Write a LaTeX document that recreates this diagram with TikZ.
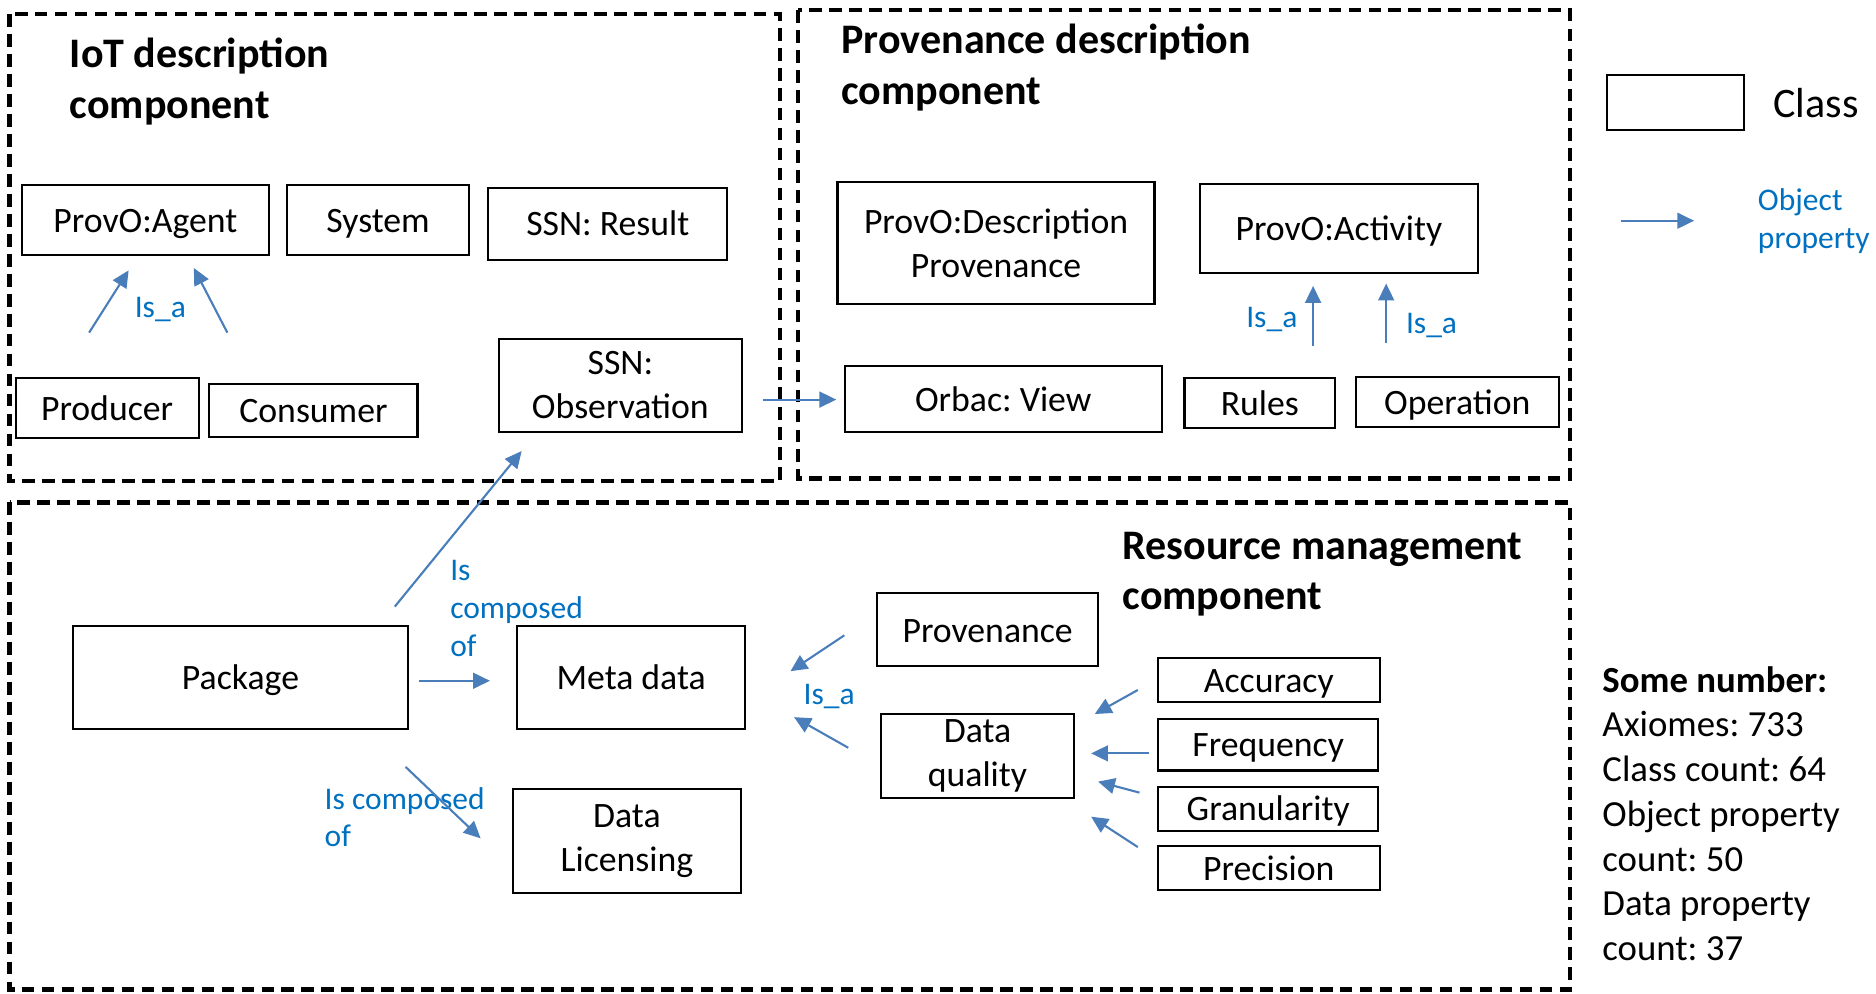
\documentclass[tikz,border=0pt]{standalone}
\usepackage{fontspec}
\setmainfont{Carlito}
\usetikzlibrary{arrows.meta}
\definecolor{arrowblue}{RGB}{74,126,187}
\definecolor{labelblue}{RGB}{0,112,192}
\frenchspacing

\begin{document}
\begin{tikzpicture}[x=0.02cm, y=-0.02cm,
	cls/.style={draw=black, line width=1pt, inner sep=0pt, align=center, font=\fontsize{17}{21}\selectfont},
	single/.style={text height=16.2pt, text depth=4.6pt},
	heading/.style={anchor=west, align=left, inner sep=0pt, font=\fontsize{20}{24}\selectfont\bfseries},
	lbl/.style={text=labelblue, inner sep=0pt, align=left, font=\fontsize{15}{18}\selectfont},
	arr/.style={draw=arrowblue, line width=1pt, -{Triangle[length=8pt, width=7.5pt]}},
	frame/.style={draw=black, line width=2pt, dash pattern=on 6pt off 3.5pt}]
				\useasboundingbox (0,0) rectangle (1568,830);
				
				\draw[frame] (8,12) rectangle (652,402);
				\draw[frame] (667,8.5) rectangle (1312,400);
				\draw[frame] (8,420) rectangle (1312,827);
				
				\node[heading] (iottitle) at (58,68){IoT description\\component};
				\node[heading] (provtitle) at (703,56.5){Provenance description\\component};
				\node[heading] (restitle) at (938,480){Resource management\\component};
				
				\node[cls, single, minimum width=4.14cm, minimum height=1.16cm] (agent) at (121.5,184){ProvO:Agent};
				\node[cls, single, minimum width=3.04cm, minimum height=1.16cm] (system) at (316,184){System};
				\node[cls, single, minimum width=4cm, minimum height=1.2cm] (result) at (508,187){SSN: Result};
				\node[cls, single, minimum width=3.06cm, minimum height=1cm] (producer) at (89.5,341){Producer};
				\node[cls, single, minimum width=3.48cm, minimum height=0.88cm] (consumer) at (262,343){Consumer};
				\node[cls, minimum width=4.06cm, minimum height=1.56cm] (observation) at (518.5,322){SSN:\\Observation};
				
				\node[cls, minimum width=5.3cm, minimum height=2.04cm] (description) at (832.5,203){ProvO:Description\\Provenance};
				\node[cls, single, minimum width=4.64cm, minimum height=1.48cm] (activity) at (1119,191){ProvO:Activity};
				\node[cls, single, minimum width=5.3cm, minimum height=1.1cm] (view) at (838.5,333.5){Orbac: View};
				\node[cls, single, minimum width=2.52cm, minimum height=0.84cm] (rules) at (1053,337){Rules};
				\node[cls, single, minimum width=3.4cm, minimum height=0.84cm] (operation) at (1218,336){Operation};
				
				\node[cls, single, minimum width=5.6cm, minimum height=1.72cm] (package) at (201,566){Package};
				\node[cls, single, minimum width=3.82cm, minimum height=1.72cm] (metadata) at (527.5,566){Meta data};
				\node[cls, minimum width=3.8cm, minimum height=1.74cm] (licensing) at (524,703){Data\\Licensing};
				\node[cls, single, minimum width=3.7cm, minimum height=1.22cm] (provenance) at (825.5,526.5){Provenance};
				\node[cls, minimum width=3.24cm, minimum height=1.4cm] (quality) at (817,632){Data\\quality};
				\node[cls, single, minimum width=3.72cm, minimum height=0.74cm] (accuracy) at (1060.5,568.5){Accuracy};
				\node[cls, single, minimum width=3.68cm, minimum height=0.86cm] (frequency) at (1060,622.5){Frequency};
				\node[cls, single, minimum width=3.68cm, minimum height=0.72cm] (granularity) at (1060,676){Granularity};
				\node[cls, single, minimum width=3.72cm, minimum height=0.7cm] (precision) at (1060.5,725.5){Precision};
				
				\node[cls, minimum width=2.3cm, minimum height=0.92cm] (classbox) at (1400.5,86){};
				\node[anchor=west, inner sep=0pt, font=\fontsize{20}{24}\selectfont] (classtext) at (1482,86){Class};
				\node[lbl, anchor=west] (proptext) at (1469,184.6){Object\\property};
				
				\node[anchor=west, align=left, inner sep=0pt, font=\fontsize{17.5}{21.3}\selectfont] (numbers) at (1339,680){\textbf{Some number:}\\Axiomes: 733\\Class count: 64\\Object property\\count: 50\\Data property\\count: 37};
				
				\node[lbl] (isa1) at (134,259){Is\_a};
				\node[lbl] (isa2) at (1063,267){Is\_a};
				\node[lbl] (isa3) at (1196.5,272){Is\_a};
				\node[lbl] (isa4) at (693,582){Is\_a};
				\node[lbl, anchor=west] (comp1) at (376,508.5){Is\\composed\\of};
				\node[lbl, anchor=west] (comp2) at (271,683){Is composed\\of};
				
				\coordinate (producerout) at (74.5,278);
				\coordinate (agentin1) at (107.5,226);
				\coordinate (consumerout) at (190,278);
				\coordinate (agentin2) at (162,224);
				\coordinate (rulesout) at (1097.5,289);
				\coordinate (activityin1) at (1097.5,239);
				\coordinate (operationout) at (1158.6,286.5);
				\coordinate (activityin2) at (1158.6,237);
				\coordinate (observationout) at (638,334);
				\coordinate (viewin) at (699,334);
				\coordinate (legendout) at (1354.5,184.5);
				\coordinate (legendin) at (1416,184.5);
				\coordinate (packageout1) at (330,507);
				\coordinate (observationin) at (436,377);
				\coordinate (packageout2) at (350,569);
				\coordinate (metadatain1) at (409.5,569);
				\coordinate (packageout3) at (339,641);
				\coordinate (licensingin) at (401.7,700.7);
				\coordinate (provenanceout) at (705.7,531);
				\coordinate (metadatain2) at (660.7,561);
				\coordinate (qualityout) at (709,625);
				\coordinate (metadatain3) at (663.7,599.4);
				\coordinate (accuracyout) at (951,576.7);
				\coordinate (qualityin1) at (915,596.8);
				\coordinate (frequencyout) at (960,629.7);
				\coordinate (qualityin2) at (912,629.7);
				\coordinate (granularityout) at (952.4,662.5);
				\coordinate (qualityin3) at (917.8,653.3);
				\coordinate (precisionout) at (951,708);
				\coordinate (qualityin4) at (912,682.6);
				
				\path (producerout) edge[arr] (agentin1);
				\path (consumerout) edge[arr] (agentin2);
				\path (rulesout) edge[arr] (activityin1);
				\path (operationout) edge[arr] (activityin2);
				\path (observationout) edge[arr] (viewin);
				\path (legendout) edge[arr] (legendin);
				\path (packageout1) edge[arr] (observationin);
				\path (packageout2) edge[arr] (metadatain1);
				\path (packageout3) edge[arr] (licensingin);
				\path (provenanceout) edge[arr] (metadatain2);
				\path (qualityout) edge[arr] (metadatain3);
				\path (accuracyout) edge[arr] (qualityin1);
				\path (frequencyout) edge[arr] (qualityin2);
				\path (granularityout) edge[arr] (qualityin3);
				\path (precisionout) edge[arr] (qualityin4);
\end{tikzpicture}
\end{document}
